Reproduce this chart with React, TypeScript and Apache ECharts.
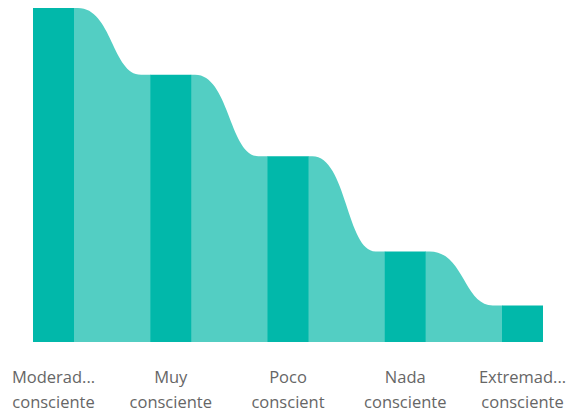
import React, { useEffect, useRef } from "react";
import * as echarts from "echarts";

const categories = [
  "Moderad...\nconsciente",
  "Muy\nconsciente",
  "Poco\nconscient",
  "Nada\nconsciente",
  "Extremad...\nconsciente",
];
const values = [36.5, 29.2, 20.3, 9.9, 4.0];

const BAR_COLOR = "#01B8AA";
const RIBBON_COLOR = "#53CEC3";
const BAR_W = 41;

export default function App() {
  const ref = useRef<HTMLDivElement>(null);
  useEffect(() => {
    if (!ref.current) return;
    const chart = echarts.init(ref.current, null, { renderer: "svg" });
    const ribbonData = values.slice(0, -1).map((v, i) => [i, v, values[i + 1]]);
    chart.setOption({
      animation: false,
      grid: { left: 53.5, right: 50.5, top: 8, bottom: 73, containLabel: false },
      xAxis: {
        type: "category",
        data: categories,
        boundaryGap: false,
        axisLine: { show: false },
        axisTick: { show: false },
        splitLine: { show: false },
        axisLabel: {
          interval: 0,
          margin: 22,
          color: "#666666",
          fontSize: 16.5,
          lineHeight: 25,
          fontFamily: "Open Sans, sans-serif",
        },
      },
      yAxis: {
        type: "value",
        min: 0,
        max: values[0],
        show: false,
      },
      series: [
        {
          type: "custom",
          clip: false,
          data: ribbonData,
          encode: { x: 0, y: 1 },
          renderItem: (params: any, api: any) => {
            const i = api.value(0);
            const a = api.value(1);
            const b = api.value(2);
            const p0 = api.coord([i, a]);
            const p1 = api.coord([i + 1, b]);
            const base = api.coord([i, 0])[1];
            const x0 = p0[0] + BAR_W / 2;
            const x1 = p1[0] - BAR_W / 2;
            const y0 = p0[1];
            const y1 = p1[1];
            const w = x1 - x0;
            const xa = x0 + w * 0.5;
            const xb = x0 + w * 0.5;
            const d = `M${x0 - 0.5},${y0} L${x0 + w * 0.05},${y0} C${xa},${y0} ${xb},${y1} ${x1 - w * 0.12},${y1} L${x1 + 0.5},${y1} L${x1 + 0.5},${base} L${x0 - 0.5},${base} Z`;
            return {
              type: "path",
              shape: { pathData: d },
              style: { fill: RIBBON_COLOR },
            };
          },
          z: 1,
        },
        {
          type: "bar",
          data: values,
          barWidth: BAR_W,
          clip: false,
          itemStyle: { color: BAR_COLOR },
          z: 2,
        },
      ],
    });
    return () => chart.dispose();
  }, []);
  return (
    <div
      ref={ref}
      style={{ position: "fixed", left: 0, top: 0, width: 573, height: 415, background: "#fff" }}
    />
  );
}
